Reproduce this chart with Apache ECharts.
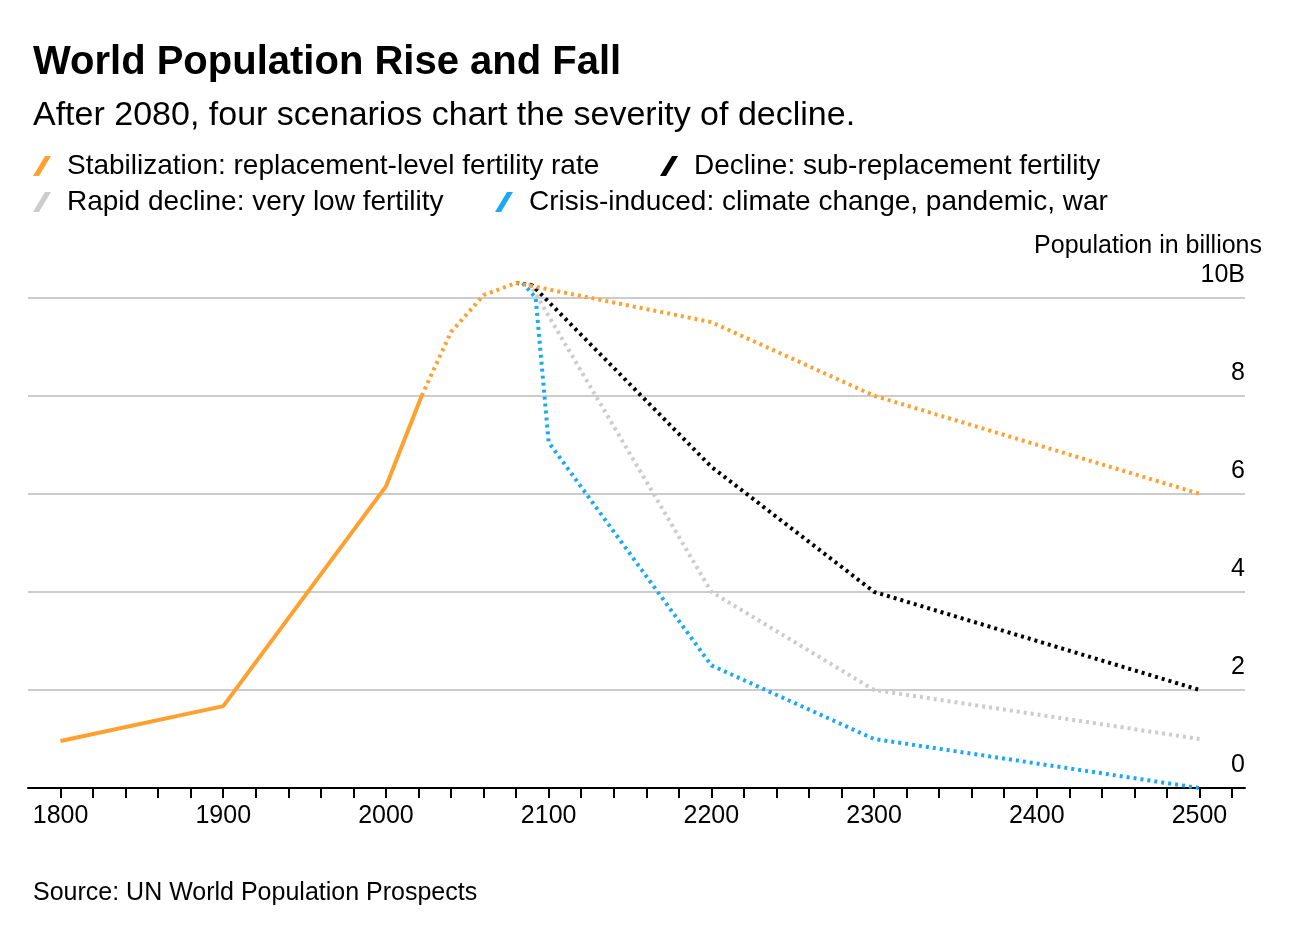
<!DOCTYPE html>
<html lang="en">
<head>
<meta charset="UTF-8">
<title>World Population Rise and Fall</title>
<script src="https://cdn.jsdelivr.net/npm/echarts@6/dist/echarts.min.js"></script>
<style>body{margin:0}#main{width:1308px;height:936px}</style>
</head>
<body>
<div id="main"></div>
<script>
var historic = [[1800, 0.96], [1900, 1.67], [2000, 6.15], [2022, 8.0]];
var stabilization = [[2022, 8.0], [2040, 9.3], [2060, 10.05], [2080, 10.3], [2200, 9.5], [2300, 8.0], [2500, 6.0]];
var decline = [[2080, 10.3], [2090, 10.25], [2200, 6.55], [2300, 4.0], [2500, 2.0]];
var rapid = [[2088, 10.3], [2200, 4.0], [2300, 2.0], [2500, 1.0]];
var crisis = [[2084, 10.3], [2092, 10.0], [2100, 7.05], [2200, 2.5], [2300, 1.0], [2500, 0]];

var FONT = 'Liberation Sans';
var slash = 'path://M0,10 L6,0 L9,0 L3,10 Z';
var names = ['Stabilization: replacement-level fertility rate', 'Decline: sub-replacement fertility',
    'Rapid decline: very low fertility', 'Crisis-induced: climate change, pandemic, war'];
var colors = ['#ffa02f', '#000000', '#cccccc', '#1aaaf5'];

function leg(i, left, top) {
    return {
        data: [names[i]], left: left, top: top, icon: slash, itemWidth: 20, itemHeight: 20, itemGap: 10,
        textStyle: {fontSize: 28, color: '#000', fontFamily: FONT, padding: [0, 0, 0, 10]}
    };
}
function line(name, data, color, dotted) {
    return {
        name: name, type: 'line', data: data, symbol: 'none', clip: false,
        lineStyle: {color: color, width: 4, type: dotted ? [3, 4] : 'solid'},
        itemStyle: {color: color}
    };
}

var chart = echarts.init(document.getElementById('main'));
chart.setOption({
    backgroundColor: '#fff',
    title: [
        {text: 'World Population Rise and Fall', left: 28, top: 38, textStyle: {fontSize: 40, fontWeight: 'bold', color: '#000', fontFamily: FONT}},
        {text: 'After 2080, four scenarios chart the severity of decline.', left: 28, top: 94, textStyle: {fontSize: 34, fontWeight: 'normal', color: '#000', fontFamily: FONT}},
        {text: 'Population in billions', right: 41, top: 229, textStyle: {fontSize: 25, fontWeight: 'normal', color: '#000', fontFamily: FONT}},
        {text: 'Source: UN World Population Prospects', left: 28, top: 876, textStyle: {fontSize: 25, fontWeight: 'normal', color: '#000', fontFamily: FONT}}
    ],
    legend: [leg(0, 28, 147), leg(1, 655, 147), leg(2, 28, 183), leg(3, 490, 183)],
    grid: {left: 28, right: 63, top: 278, bottom: 148},
    xAxis: {
        type: 'value', min: 1780, max: 2528, interval: 20,
        splitLine: {show: false},
        axisLine: {lineStyle: {color: '#000', width: 2}},
        axisTick: {length: 10, lineStyle: {color: '#000', width: 2}},
        axisLabel: {
            fontSize: 25, color: '#000', fontFamily: FONT, margin: 16, showMinLabel: false, showMaxLabel: false,
            formatter: function (v) { return v % 100 === 0 ? String(v) : ''; }
        }
    },
    yAxis: {
        type: 'value', position: 'right', min: 0, max: 10.4, interval: 2,
        axisLine: {show: false}, axisTick: {show: false},
        splitLine: {showMaxLine: false, lineStyle: {color: '#bbbbbb', width: 1.5}},
        axisLabel: {
            inside: true, align: 'right', verticalAlign: 'bottom', margin: 0, padding: [0, 0, 10, 0],
            fontSize: 25, color: '#000', fontFamily: FONT, showMaxLabel: false,
            formatter: function (v) { return v === 10 ? '10B' : (v % 2 === 0 ? String(v) : ''); }
        }
    },
    series: [
        line(names[2], rapid, colors[2], true),
        line(names[3], crisis, colors[3], true),
        line(names[1], decline, colors[1], true),
        line(names[0], stabilization, colors[0], true),
        line(names[0], historic, colors[0], false)
    ]
});
</script>
</body>
</html>
